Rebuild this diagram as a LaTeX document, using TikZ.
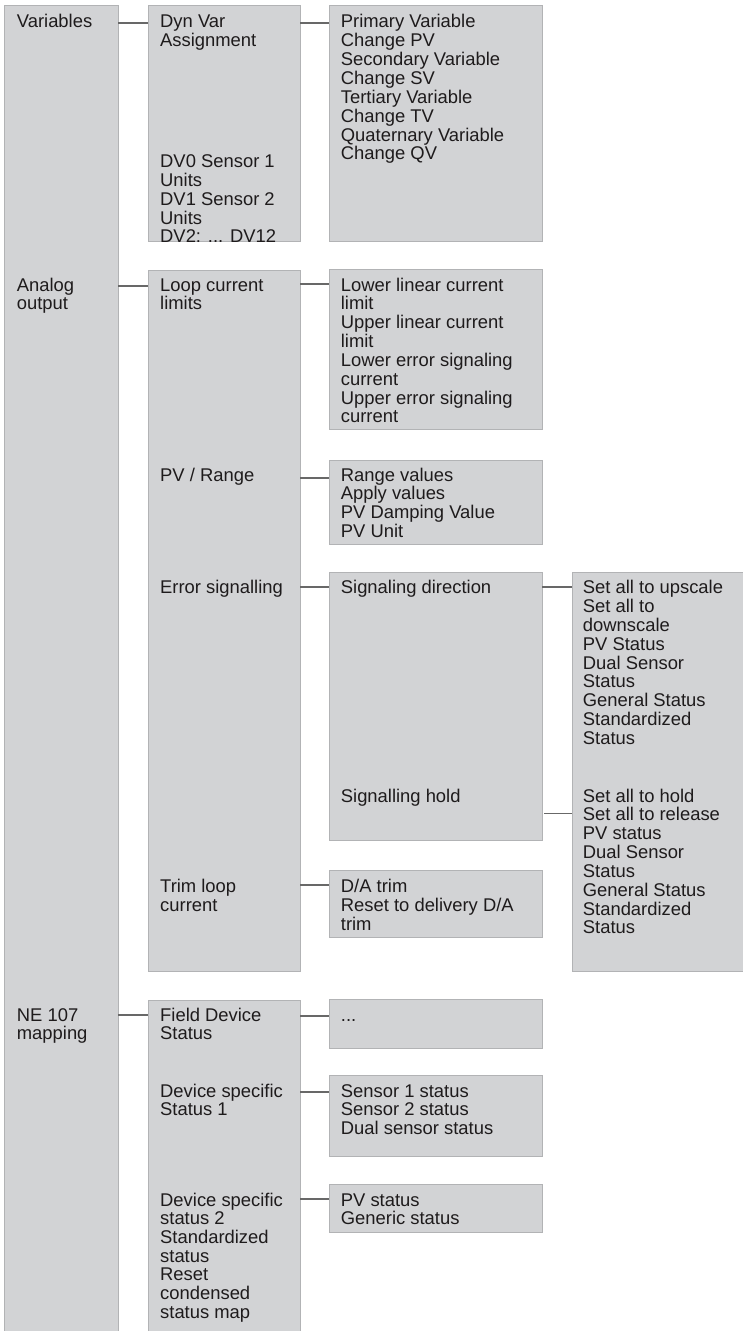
\documentclass[tikz,border=0pt]{standalone}
\usepackage{fontspec}
\setmainfont{Liberation Sans}
\definecolor{boxfill}{HTML}{D2D3D5}
\definecolor{boxline}{HTML}{B2B3B5}
\definecolor{connline}{HTML}{686868}
\definecolor{textcol}{HTML}{1E1B1C}
% multi-line cell whose baseline is that of its first line
\newcommand{\menulines}[1]{\begin{tabular}[t]{@{}l@{}}#1\end{tabular}}
\begin{document}
\begin{tikzpicture}[x=1pt,y=-1pt,
  box/.style={fill=boxfill, draw=boxline, line width=0.9pt, anchor=north west,
              inner sep=0pt, outer sep=0pt},
  conn/.style={draw=connline, line width=1.6pt},
  txt/.style={anchor=base west, inner sep=0pt, text=textcol,
              font=\fontsize{18.4}{18.65}\selectfont}]
\useasboundingbox (0,0) rectangle (742,1331);

% ---- column 1
\node[box, minimum width=114pt, minimum height=1345pt] (L1) at (4,5) {};
% ---- column 2
\node[box, minimum width=152pt, minimum height=236pt] (A) at (148,5) {};
\node[box, minimum width=152pt, minimum height=701.7pt] (B) at (148,270) {};
\node[box, minimum width=152pt, minimum height=345pt] (C) at (148,1000) {};
% ---- column 3
\node[box, minimum width=213pt, minimum height=236pt] (D) at (329,5) {};
\node[box, minimum width=213pt, minimum height=159.7pt] (E) at (329,269.3) {};
\node[box, minimum width=213pt, minimum height=84pt] (F) at (329,460) {};
\node[box, minimum width=213pt, minimum height=268pt] (G) at (329,572.7) {};
\node[box, minimum width=213pt, minimum height=66.6pt] (H) at (329,870.7) {};
\node[box, minimum width=213pt, minimum height=49pt] (I) at (329,999.3) {};
\node[box, minimum width=213pt, minimum height=81pt] (J) at (329,1075.7) {};
\node[box, minimum width=213pt, minimum height=48pt] (K) at (329,1184.3) {};
% ---- column 4
\node[box, minimum width=180pt, minimum height=399.4pt] (M) at (572,572.3) {};

% ---- connector heights
\coordinate (y1) at (0,22.7);
\coordinate (y2) at (0,286);
\coordinate (y3) at (0,283.7);
\coordinate (y4) at (0,477.7);
\coordinate (y5) at (0,586.7);
\coordinate (y6) at (0,813.3);
\coordinate (y7) at (0,885);
\coordinate (y8) at (0,1015);
\coordinate (y9) at (0,1016);
\coordinate (y10) at (0,1091.7);
\coordinate (y11) at (0,1199);

\draw[conn] (L1.east |- y1) -- (A.west |- y1);
\draw[conn] (A.east |- y1) -- (D.west |- y1);
\draw[conn] (L1.east |- y2) -- (B.west |- y2);
\draw[conn] (B.east |- y3) -- (E.west |- y3);
\draw[conn] (B.east |- y4) -- (F.west |- y4);
\draw[conn] (B.east |- y5) -- (G.west |- y5);
\draw[conn] (G.east |- y5) -- (M.west |- y5);
\draw[conn] ([xshift=2pt]G.east |- y6) -- (M.west |- y6);
\draw[conn] (B.east |- y7) -- (H.west |- y7);
\draw[conn] (L1.east |- y8) -- (C.west |- y8);
\draw[conn] (C.east |- y9) -- (I.west |- y9);
\draw[conn] (C.east |- y10) -- (J.west |- y10);
\draw[conn] (C.east |- y11) -- (K.west |- y11);

% ---- column 1 labels
\node[txt] (t1a) at (16.7,27.5) {Variables};
\node[txt] (t1b) at (16.7,291) {\menulines{Analog\\output}};
\node[txt] (t1c) at (16.7,1021) {\menulines{NE 107\\mapping}};

% ---- column 2 labels
\node[txt] (t2a) at (160,27.5) {\menulines{Dyn Var\\Assignment}};
\node[txt] (t2b) at (160,167.7) {\menulines{DV0 Sensor 1\\Units\\DV1 Sensor 2\\Units\\DV2: ... DV12}};
\node[txt] (t2c) at (160,291) {\menulines{Loop current\\limits}};
\node[txt] (t2d) at (160,481) {PV / Range};
\node[txt] (t2e) at (160,593.7) {Error signalling};
\node[txt] (t2f) at (160,892.5) {\menulines{Trim loop\\current}};
\node[txt] (t2g) at (160,1021) {\menulines{Field Device\\Status}};
\node[txt] (t2h) at (160,1097) {\menulines{Device specific\\Status 1}};
\node[txt] (t2i) at (160,1206) {\menulines{Device specific\\status 2\\Standardized\\status\\Reset\\condensed\\status map}};

% ---- column 3 labels
\node[txt] (t3a) at (340.7,27.5) {\menulines{Primary Variable\\Change PV\\Secondary Variable\\Change SV\\Tertiary Variable\\Change TV\\Quaternary Variable\\Change QV}};
\node[txt] (t3b) at (340.7,291) {\menulines{Lower linear current\\limit\\Upper linear current\\limit\\Lower error signaling\\current\\Upper error signaling\\current}};
\node[txt] (t3c) at (340.7,481) {\menulines{Range values\\Apply values\\PV Damping Value\\PV Unit}};
\node[txt] (t3d) at (340.7,593.7) {Signaling direction};
\node[txt] (t3e) at (340.7,802) {Signalling hold};
\node[txt] (t3f) at (340.7,892.5) {\menulines{D/A trim\\Reset to delivery D/A\\trim}};
\node[txt] (t3g) at (340.7,1021) {...};
\node[txt] (t3h) at (340.7,1097) {\menulines{Sensor 1 status\\Sensor 2 status\\Dual sensor status}};
\node[txt] (t3i) at (340.7,1206) {\menulines{PV status\\Generic status}};

% ---- column 4 labels
\node[txt] (t4a) at (582.7,593.7) {\menulines{Set all to upscale\\Set all to\\downscale\\PV Status\\Dual Sensor\\Status\\General Status\\Standardized\\Status}};
\node[txt] (t4b) at (582.7,802) {\menulines{Set all to hold\\Set all to release\\PV status\\Dual Sensor\\Status\\General Status\\Standardized\\Status}};
\end{tikzpicture}
\end{document}
